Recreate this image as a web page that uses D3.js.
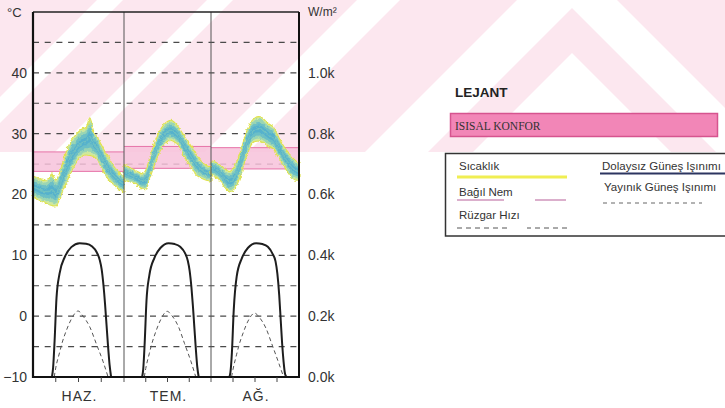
<!DOCTYPE html>
<html><head><meta charset="utf-8">
<script src="https://cdn.jsdelivr.net/npm/d3@7/dist/d3.min.js"></script>
<style>body{margin:0;background:#fff}svg{display:block}</style>
</head><body><svg id="c" width="725" height="408"></svg>
<script>
// ---------------- DATA ----------------
const months = ["HAZ.", "TEM.", "AĞ."];
const tempTicks = [-10, 0, 10, 20, 30, 40];
const radTicks = [0, 200, 400, 600, 800, 1000];
const gridTemps = [-5, 0, 5, 10, 15, 20, 25, 30, 35, 40, 45];
const hourTicks = [6, 12, 18];

// hourly temperature envelope (°C), hours 0..24 of a representative day
const tempHours = d3.range(0, 25);
const tempUpperHaz = [23.0,22.8,22.5,22.3,22.6,23.4,22.4,23.5,25.5,27.4,28.8,29.6,30.3,30.8,31.0,32.6,30.4,29.4,28.2,27.0,26.0,24.9,24.1,23.4,23.0];
const tempLowerHaz = [19.5,19.2,18.9,18.7,18.4,18.2,18.1,19.2,20.8,22.2,23.6,24.8,25.8,26.3,26.5,26.4,26.2,25.8,24.4,23.3,22.4,21.8,21.2,20.7,20.4];
const tempUpperTem = [25.0,24.6,24.3,24.0,23.7,23.4,24.0,25.8,27.8,29.3,30.6,31.5,32.0,32.2,31.8,31.1,30.2,29.2,28.4,27.5,26.5,25.7,25.1,24.7,24.5];
const tempLowerTem = [22.4,22.2,22.0,21.8,21.4,20.9,20.8,22.4,24.2,25.8,27.2,28.1,28.7,28.9,28.6,28.1,27.0,25.9,25.0,24.0,23.2,22.8,22.5,22.3,22.2];
const tempUpperAg  = [25.5,25.4,25.0,24.6,24.1,23.8,24.2,25.3,27.0,29.0,30.8,32.0,32.6,32.8,32.6,32.0,31.5,31.1,30.0,28.8,27.8,27.0,26.2,25.6,25.1];
const tempLowerAg  = [23.2,23.0,22.6,21.8,21.0,20.4,20.6,21.5,23.0,25.0,26.8,28.2,28.7,28.8,28.6,28.2,27.8,27.5,26.5,25.6,24.6,23.6,22.8,22.4,22.3];

// thermal comfort zone (°C)
const comfortLow  = [23.8, 24.3, 24.2];
const comfortHigh = [27.0, 27.9, 27.7];

// direct solar radiation (W/m²)
const directHours = [5.0, 5.3, 5.7, 6.2, 7.0, 8.4, 10.1, 12.3, 14.0, 15.5, 16.8, 17.6, 18.1, 18.6, 19.0, 19.4, 19.8, 20.2, 20.6];
const directHaz = [0, 30, 120, 260, 340, 395, 427, 440, 438, 430, 410, 385, 355, 300, 240, 170, 100, 40, 0];
const directTem = [0, 25, 110, 250, 335, 392, 425, 440, 437, 428, 408, 382, 350, 295, 235, 165, 95, 35, 0];
const directAg  = [0, 15, 80, 220, 330, 390, 425, 440, 437, 428, 405, 380, 340, 270, 190, 110, 50, 10, 0];

// diffuse solar radiation (W/m²)
const diffuseHours = [5.6, 6.0, 7.0, 7.6, 8.8, 10.1, 11.9, 13.2, 15.0, 16.7, 18.5, 19.8];
const diffuseHaz = [0, 30, 80, 109, 153, 190, 217, 200, 164, 109, 50, 0];
const diffuseTem = [0, 28, 78, 106, 150, 188, 216, 202, 166, 110, 50, 0];
const diffuseAg  = [0, 25, 75, 103, 146, 184, 210, 196, 160, 105, 45, 0];

const legendLeft  = ["Sıcaklık", "Bağıl Nem", "Rüzgar Hızı"];
const legendRight = ["Dolaysız Güneş Işınımı", "Yayınık Güneş Işınımı"];

// ---------------- DRAW ----------------
const svg = d3.select("#c");
const FONT = "'Liberation Sans', Arial, sans-serif";

const defs = svg.append("defs");
const fz = defs.append("filter").attr("id", "fuzz").attr("x", "-5%").attr("y", "-20%").attr("width", "110%").attr("height", "140%");
fz.append("feTurbulence").attr("type", "fractalNoise").attr("baseFrequency", 0.35).attr("numOctaves", 2).attr("seed", 3).attr("result", "n");
fz.append("feDisplacementMap").attr("in", "SourceGraphic").attr("in2", "n").attr("scale", 3.5)
  .attr("xChannelSelector", "R").attr("yChannelSelector", "G");

// faint watermark (scan background)
const wm = svg.append("g");
const wmPink = "#fce7ef";
wm.append("rect").attr("x",0).attr("y",0).attr("width",725).attr("height",152).attr("fill",wmPink);
[[[97,0],[123,0],[-29,152],[-55,152]],
 [[207,0],[233,0],[81,152],[55,152]],
 [[357,0],[400,0],[248,152],[205,152]],
 [[517,0],[617,0],[769,152],[365,152]]
].forEach(p => wm.append("polygon").attr("points", p.join(" ")).attr("fill", "#fff"));
wm.append("polygon").attr("points", [[572,8],[716,152],[671,152],[572,53],[473,152],[428,152]].join(" ")).attr("fill",wmPink);

const x = d3.scaleLinear().domain([0,24,48,72]).range([33,124,211,299]);
const yT = d3.scaleLinear().domain([-10,50]).range([377,12]);
const yR = d3.scaleLinear().domain([0,1200]).range([377,12]);

// grid
svg.append("g").selectAll("line").data(gridTemps).join("line")
  .attr("x1", x(0)).attr("x2", x(72))
  .attr("y1", d => yT(d)).attr("y2", d => yT(d))
  .attr("stroke", "#4a4a4a").attr("stroke-width", 1.2)
  .attr("stroke-dasharray", "6,5.7");

// comfort bands
const cg = svg.append("g");
months.forEach((m,i) => {
  cg.append("rect").attr("x", x(24*i)).attr("width", x(24*(i+1)) - x(24*i))
    .attr("y", yT(comfortHigh[i])).attr("height", yT(comfortLow[i]) - yT(comfortHigh[i]))
    .attr("fill", "#f7c2da").attr("opacity", 0.85);
  [comfortHigh[i], comfortLow[i]].forEach(v => cg.append("line")
    .attr("x1", x(24*i)).attr("x2", x(24*(i+1))).attr("y1", yT(v)).attr("y2", yT(v))
    .attr("stroke", "#e673a8").attr("stroke-width", 1));
});

// temperature envelopes
const upp = [tempUpperHaz, tempUpperTem, tempUpperAg];
const low = [tempLowerHaz, tempLowerTem, tempLowerAg];
const tg = svg.append("g").attr("filter", "url(#fuzz)");
const layers = [[0, "#cfe89e"], [0.1, "#9ad5b4"], [0.22, "#6cbfc6"], [0.36, "#55b1cd"]];
months.forEach((m,i) => {
  const pts = tempHours.map((h,k) => ({h: h + 24*i, lo: low[i][k], hi: upp[i][k]}));
  layers.forEach(([f, col], li) => {
    const a = d3.area().curve(d3.curveMonotoneX)
      .x(d => x(d.h))
      .y0(d => yT(d.lo + f*(d.hi-d.lo)))
      .y1(d => yT(d.hi - f*(d.hi-d.lo)));
    tg.append("path").attr("d", a(pts)).attr("fill", col)
      .attr("stroke", li === 0 ? "#e0e24c" : "none").attr("stroke-width", 1.1);
  });
  const mid = d3.line().curve(d3.curveMonotoneX).x(d => x(d.h)).y(d => yT((d.lo+d.hi)/2));
  tg.append("path").attr("d", mid(pts)).attr("fill","none").attr("stroke","#7cc8bc").attr("stroke-width",1.4).attr("opacity",0.7);
});

// radiation
const dirs = [directHaz, directTem, directAg];
const difs = [diffuseHaz, diffuseTem, diffuseAg];
const rg = svg.append("g");
months.forEach((m,i) => {
  const ld = d3.line().curve(d3.curveMonotoneX).x(d => x(d[0] + 24*i)).y(d => yR(d[1]));
  rg.append("path").attr("d", ld(directHours.map((h,k) => [h, dirs[i][k]])))
    .attr("fill","none").attr("stroke","#1e1e1e").attr("stroke-width",2);
  rg.append("path").attr("d", ld(diffuseHours.map((h,k) => [h, difs[i][k]])))
    .attr("fill","none").attr("stroke","#555").attr("stroke-width",1).attr("stroke-dasharray","4,3");
});

// dividers
svg.append("g").selectAll("line").data([24,48]).join("line")
  .attr("x1", d => x(d)).attr("x2", d => x(d)).attr("y1", 12).attr("y2", 382)
  .attr("stroke", "#555").attr("stroke-width", 1);

// frame
svg.append("line").attr("x1", 33).attr("x2", 299).attr("y1", yT(50)).attr("y2", yT(50)).attr("stroke","#222").attr("stroke-width",1.6);
svg.append("line").attr("x1", x(0)).attr("x2", x(72)).attr("y1", yT(-10)).attr("y2", yT(-10)).attr("stroke","#111").attr("stroke-width",2);
svg.append("line").attr("x1", x(0)).attr("x2", x(0)).attr("y1", yT(50)).attr("y2", yT(-10)+1).attr("stroke","#111").attr("stroke-width",2.2);
svg.append("line").attr("x1", x(72)).attr("x2", x(72)).attr("y1", yT(50)).attr("y2", yT(-10)+1).attr("stroke","#111").attr("stroke-width",2);

// axes
const la = svg.append("g").attr("transform", `translate(${x(0)},0)`)
  .call(d3.axisLeft(yT).tickValues(tempTicks).tickSize(0).tickPadding(6));
const ra = svg.append("g").attr("transform", `translate(${x(72)},0)`)
  .call(d3.axisRight(yR).tickValues(radTicks).tickSize(0).tickPadding(9).tickFormat(d => (d/1000).toFixed(1) + "k"));
[la, ra].forEach(g => {
  g.select(".domain").remove();
  g.selectAll("text").attr("font-family", FONT).attr("font-size", 14).attr("fill", "#333");
});

// hour ticks + month labels
const ticks = [];
months.forEach((m,i) => hourTicks.forEach(h => ticks.push(h + 24*i)));
svg.append("g").selectAll("line").data(ticks).join("line")
  .attr("x1", d => x(d)).attr("x2", d => x(d)).attr("y1", 377).attr("y2", 382)
  .attr("stroke", "#444").attr("stroke-width", 1);
svg.append("g").selectAll("text").data(months).join("text")
  .attr("x", (d,i) => x(12 + 24*i) + 1).attr("y", 401)
  .attr("text-anchor", "middle").attr("font-family", FONT).attr("font-size", 14)
  .attr("letter-spacing", 1).attr("fill", "#333").text(d => d);

svg.append("text").attr("x", 7).attr("y", 17).attr("font-family", FONT).attr("font-size", 13).attr("fill","#333").text("°C");
svg.append("text").attr("x", 308).attr("y", 16).attr("font-family", FONT).attr("font-size", 12).attr("fill","#333").text("W/m²");

// ---------------- LEGEND ----------------
svg.append("text").attr("x", 455).attr("y", 97).attr("font-family", FONT).attr("font-weight", "bold")
  .attr("font-size", 13.5).attr("fill", "#222").text("LEJANT");
svg.append("rect").attr("x", 450.5).attr("y", 113.5).attr("width", 267).attr("height", 23)
  .attr("fill", "#f286b7").attr("stroke", "#d6548f").attr("stroke-width", 1.5);
svg.append("text").attr("x", 455).attr("y", 129.5).attr("font-family", "'Liberation Serif', 'Times New Roman', serif")
  .attr("font-size", 11.5).attr("fill", "#333").text("ISISAL KONFOR");

svg.append("rect").attr("x", 445.5).attr("y", 153.5).attr("width", 300).attr("height", 82.5)
  .attr("fill", "#fff").attr("stroke", "#333").attr("stroke-width", 1.5);
const lg = svg.append("g").attr("font-family", FONT).attr("font-size", 11.5).attr("fill", "#333");
const leftY = [170, 196, 219];
lg.selectAll("text.l").data(legendLeft).join("text").attr("class","l")
  .attr("x", 459).attr("y", (d,i) => leftY[i]).text(d => d);
const rightY = [170, 191];
lg.selectAll("text.r").data(legendRight).join("text").attr("class","r")
  .attr("x", (d,i) => i === 0 ? 602 : 604).attr("y", (d,i) => rightY[i]).text(d => d);
svg.append("line").attr("x1", 457).attr("x2", 567).attr("y1", 177).attr("y2", 177).attr("stroke", "#f0ee52").attr("stroke-width", 3);
svg.append("line").attr("x1", 457).attr("x2", 566).attr("y1", 200).attr("y2", 200).attr("stroke", "#b8609a").attr("stroke-width", 1.2).attr("stroke-dasharray", "47,31");
svg.append("line").attr("x1", 457).attr("x2", 567).attr("y1", 228).attr("y2", 228).attr("stroke", "#555").attr("stroke-width", 1).attr("stroke-dasharray", "5,4,5,4,5,4,5,4,5,4,5,20,4,4");
svg.append("line").attr("x1", 600).attr("x2", 725).attr("y1", 173.5).attr("y2", 173.5).attr("stroke", "#2c3560").attr("stroke-width", 2.2);
svg.append("line").attr("x1", 603).attr("x2", 702).attr("y1", 203).attr("y2", 203).attr("stroke", "#666").attr("stroke-width", 1).attr("stroke-dasharray", "4,4");
</script></body></html>
